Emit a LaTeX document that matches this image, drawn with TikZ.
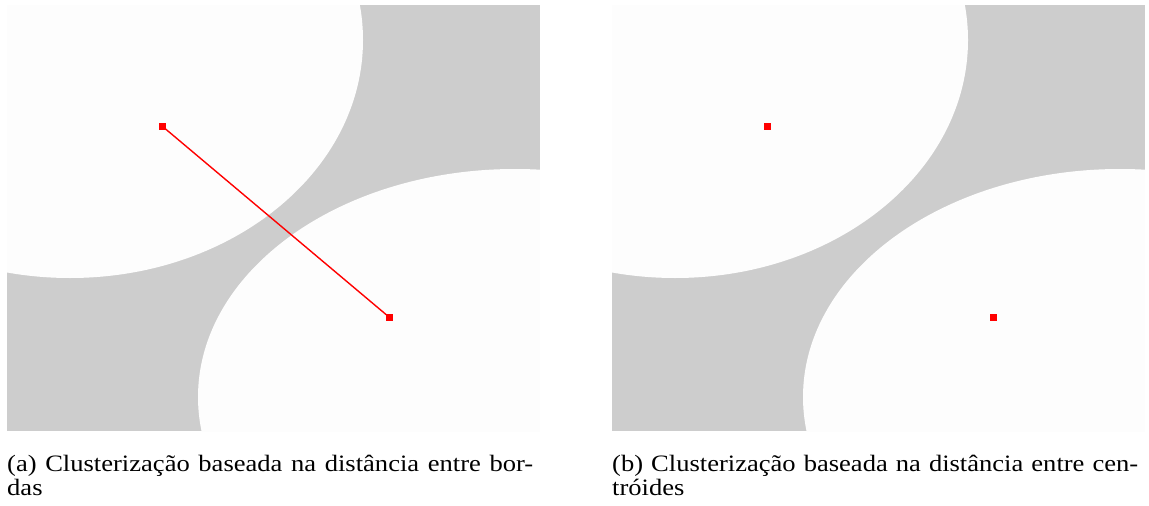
\documentclass[tikz,border=0pt]{standalone}
\usepackage{fontspec}
\setmainfont{Liberation Serif}
\usepackage{graphicx}
\definecolor{panelgray}{RGB}{205,205,205}
\definecolor{diskwhite}{RGB}{253,253,253}
\definecolor{markred}{RGB}{255,0,0}
\newcommand{\subcap}[1]{%
  \scalebox{1.13}[1]{\parbox[t]{465.5pt}{\fontsize{23.5}{24}\selectfont
    \tolerance=10000\hbadness=10000 #1}}}
\begin{document}
\begin{tikzpicture}[x=1pt,y=-1pt,
  centroid/.style={rectangle,fill=markred,draw=none,minimum size=7pt,inner sep=0pt},
  link/.style={markred,line width=1.4pt},
  caption/.style={anchor=base west,inner sep=0pt}]
\useasboundingbox (0,0) rectangle (1149,506);

% two overlapping regions on a grey field, panel (a)
\begin{scope}
  \clip (7,5) rectangle (540,431);
  \fill[panelgray] (7,5) rectangle (540,431);
  \fill[diskwhite] (70,40) ellipse [x radius=293pt, y radius=238pt];
  \fill[diskwhite] (515,397) ellipse [x radius=317pt, y radius=228pt];
\end{scope}

% the same regions, panel (b)
\begin{scope}[xshift=605pt]
  \clip (7,5) rectangle (540,431);
  \fill[panelgray] (7,5) rectangle (540,431);
  \fill[diskwhite] (70,40) ellipse [x radius=293pt, y radius=238pt];
  \fill[diskwhite] (515,397) ellipse [x radius=317pt, y radius=228pt];
\end{scope}

% centroids and the distance between them
\node[centroid] (a1) at (162,126) {};
\node[centroid] (a2) at (389,317) {};
\draw[link] (a1.center) -- (a2.center);

\node[centroid] (b1) at (767,126) {};
\node[centroid] (b2) at (993,317) {};

% captions
\node[caption] (capa) at (7,471)
  {\subcap{(a) Clusterização baseada na distância entre bor-\linebreak das}};
\node[caption] (capb) at (612,471)
  {\subcap{(b) Clusterização baseada na distância entre cen-\linebreak tróides}};
\end{tikzpicture}
\end{document}
